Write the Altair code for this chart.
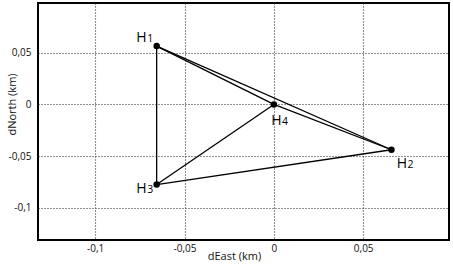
import altair as alt
import pandas as pd

names = ["H1", "H2", "H3", "H4"]
letters = ["H", "H", "H", "H"]
digits = ["1", "2", "3", "4"]
east = [-0.0656, 0.0658, -0.0656, 0.0]
north = [0.0564, -0.0438, -0.0774, 0.0]
edges_from = ["H1", "H1", "H1", "H2", "H2", "H3"]
edges_to = ["H2", "H3", "H4", "H3", "H4", "H4"]
x_ticks = [-0.1, -0.05, 0, 0.05]
y_ticks = [-0.1, -0.05, 0, 0.05]

FONT = "Open Sans"

pts = pd.DataFrame({"name": names, "letter": letters, "digit": digits,
                    "east": east, "north": north})
idx = {n: i for i, n in enumerate(names)}
rows = []
for k, (a, b) in enumerate(zip(edges_from, edges_to)):
    for n in (a, b):
        rows.append({"edge": k, "east": east[idx[n]], "north": north[idx[n]]})
lines = pd.DataFrame(rows)

xs = alt.Scale(domain=[-0.132, 0.098], nice=False, zero=False)
ys = alt.Scale(domain=[-0.131, 0.098], nice=False, zero=False)
label_expr = "replace(toString(datum.value), '.', ',')"

xaxis = alt.Axis(values=x_ticks, labelExpr=label_expr, title="dEast (km)",
                 grid=True, gridDash=[1, 2], gridColor="#222", gridWidth=1.1,
                 ticks=False, domain=False, labelPadding=3, labelFontSize=10,
                 labelColor="#111", labelFont=FONT, titleFont=FONT,
                 titleFontSize=11, titleFontWeight="normal", titleColor="#111",
                 titleX=196, titleY=16.5, titleBaseline="middle", titleAnchor="start",
                 titleAlign="center")
yaxis = alt.Axis(values=y_ticks, labelExpr=label_expr, title="dNorth (km)",
                 grid=True, gridDash=[1, 2], gridColor="#222", gridWidth=1.1,
                 ticks=False, domain=False, labelPadding=7, labelFontSize=10,
                 labelColor="#111", labelFont=FONT, titleFont=FONT,
                 titleFontSize=11, titleFontWeight="normal", titleColor="#111",
                 titleX=-26, titleY=101, titleBaseline="middle", titleAlign="center",
                 titleAngle=-90)

line_layer = alt.Chart(lines).mark_line(color="black", strokeWidth=1.3).encode(
    x=alt.X("east:Q", scale=xs, axis=xaxis),
    y=alt.Y("north:Q", scale=ys, axis=yaxis),
    detail="edge:N",
)

pt_layer = alt.Chart(pts).mark_circle(color="black", size=42, opacity=1).encode(
    x=alt.X("east:Q", scale=xs),
    y=alt.Y("north:Q", scale=ys),
)

offsets = {"H1": (-10, -4), "H2": (15.5, 18), "H3": (-10, 8.7), "H4": (7.7, 20.7)}
label_layers = []
for n in names:
    dx, dy = offsets[n]
    base = alt.Chart(pts).transform_filter(alt.datum.name == n)
    label_layers.append(base.mark_text(font=FONT, fontSize=14, color="black",
                                       align="right", baseline="alphabetic",
                                       dx=dx, dy=dy).encode(
        x=alt.X("east:Q", scale=xs), y=alt.Y("north:Q", scale=ys), text="letter:N"))
    label_layers.append(base.mark_text(font=FONT, fontSize=10.5, color="black",
                                       align="left", baseline="alphabetic",
                                       dx=dx + 0.5, dy=dy).encode(
        x=alt.X("east:Q", scale=xs), y=alt.Y("north:Q", scale=ys), text="digit:N"))

chart = alt.layer(line_layer, pt_layer, *label_layers).properties(
    width=411, height=237,
    padding={"left": 38, "top": 3, "right": 4, "bottom": 24},
    autosize="none",
    background="white",
).configure_view(stroke="black", strokeWidth=2)

chart.save("out.html", embed_options={"renderer": "svg", "actions": False})
